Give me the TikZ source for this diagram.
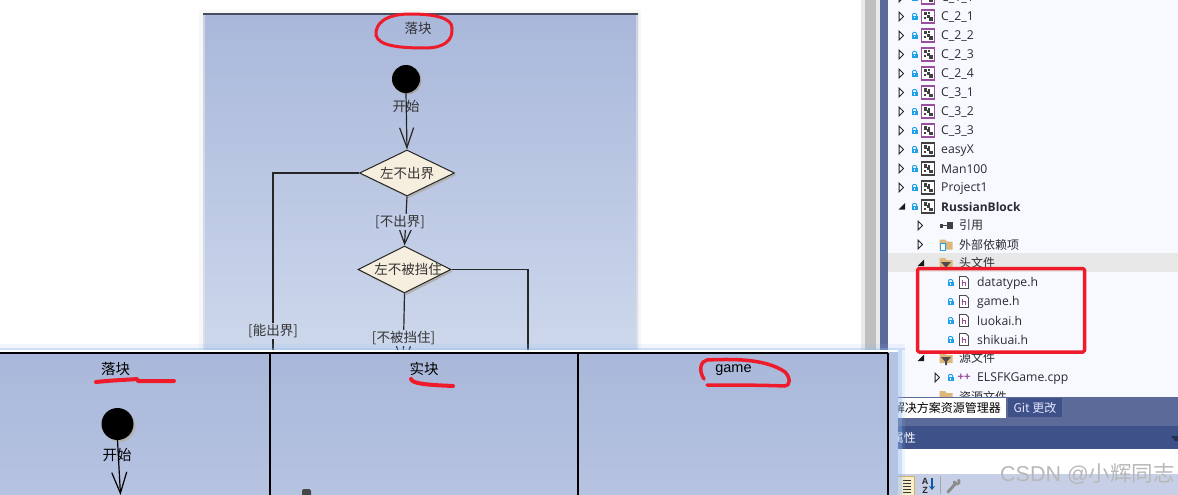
\documentclass[tikz,border=0pt]{standalone}
\usepackage{fontspec}
\setmainfont{Liberation Sans}
\newfontfamily\cjk{Noto Sans CJK SC}
\newfontfamily\uifont{Open Sans}
\usetikzlibrary{shapes.geometric,arrows.meta}
\definecolor{swimtop}{HTML}{A9B7DA}
\definecolor{swimmid}{HTML}{CDD8EC}
\definecolor{swimlow}{HTML}{B6C3E1}
\definecolor{panelbg}{HTML}{F8F9FF}
\definecolor{chrome}{HTML}{5B6A99}
\definecolor{chromedark}{HTML}{3F5189}
\definecolor{inkred}{HTML}{EE1C2B}
\definecolor{lockblue}{HTML}{1FA0EA}
\definecolor{projpurple}{HTML}{9A4E9E}
\definecolor{dmdfill}{HTML}{F6EEDF}
\definecolor{treeink}{HTML}{2B2B33}
\definecolor{toolbarbg}{HTML}{C6CFE6}
\definecolor{btnfill}{HTML}{FBEECB}
\definecolor{btnline}{HTML}{D8B060}
\definecolor{sortblue}{HTML}{0A5AAA}
\definecolor{glowblue}{HTML}{8CB9F0}
\definecolor{lanebg}{HTML}{B5C3E2}
\definecolor{guardA}{HTML}{C2CEE7}
\definecolor{guardB}{HTML}{CDD7EC}
\definecolor{folderc}{HTML}{DCB67A}
\definecolor{topline}{HTML}{474C5E}
\tikzset{
  x=1pt,y=-1pt,
  treetext/.style={anchor=west,inner sep=0,yshift=-0.8pt,text=treeink,font=\uifont\fontsize{12.2}{14}\selectfont},
  cjktree/.style={anchor=west,inner sep=0,text=treeink,font=\cjk\fontsize{12}{14}\selectfont},
  umltext/.style={inner sep=0,text=black!80,font=\cjk\fontsize{13.5}{15}\selectfont},
  guardtext/.style={umltext,inner sep=1pt},
  decision/.style={diamond,aspect=2,draw=black!85,line width=1pt,fill=dmdfill,inner sep=0,minimum width=95pt,minimum height=46pt,umltext},
  dmdshadow/.style={diamond,aspect=2,fill=black!30,inner sep=0,minimum width=95pt,minimum height=46pt},
  startdot/.style={circle,fill=black,inner sep=0},
  flow/.style={draw=black!85,line width=1.2pt},
  flowarrow/.style={flow,-{Straight Barb[length=20pt,width=14pt,line width=1.2pt]}},
  redink/.style={draw=inkred,line width=3.5pt,line cap=round,line join=round},
  lockpic/.pic={
    \fill[lockblue] (-3,-0.5) rectangle (3,3.5);
    \draw[lockblue,line width=1pt] (-2,-0.5) -- (-2,-2) -- (-1,-3) -- (1,-3) -- (2,-2) -- (2,-0.5);
    \fill[white] (-0.7,0.7) rectangle (0.7,2);
  },
  openarrow/.pic={\draw[black!85,line width=1pt,fill=white] (-2,-4.5) -- (2.5,0) -- (-2,4.5) -- cycle;},
  openarrowsolid/.pic={\fill[black!90] (-3.5,3) -- (3,3) -- (3,-3.5) -- cycle;},
  projpic/.pic={
    \draw[#1,line width=1.1pt,fill=white] (-6.5,-6.5) rectangle (6.5,6.5);
    \fill[black!75] (-4.5,-4.5) rectangle (-1,-1);
    \fill[black!75] (-1.5,-1.5) rectangle (1.5,1.5);
    \fill[black!75] (1,1) rectangle (4.5,4.5);
    \fill[black!75] (0,-4) rectangle (2,-2);
    \fill[black!75] (-4,1) rectangle (-2,3);
  },
  filepic/.pic={
    \draw[black!70,line width=0.9pt,fill=white] (-4.5,-6) -- (2,-6) -- (4.5,-3.5) -- (4.5,6) -- (-4.5,6) -- cycle;
    \draw[projpurple,line width=1pt] (-1.5,-3) -- (-1.5,3.5) (-1.5,0) -- (1.5,0) -- (1.5,3.5);
  },
  folderpic/.pic={
    \fill[folderc] (-6.5,-5) -- (-1,-5) -- (0.5,-3) -- (6.5,-3) -- (6.5,5) -- (-6.5,5) -- cycle;
  },
}
\begin{document}
\begin{tikzpicture}
\useasboundingbox (0,0) rectangle (1178,495);
\clip (0,0) rectangle (1178,495);
\fill[white] (0,0) rectangle (1178,495);

% vertical scroll strip and explorer
\fill[black!10,opacity=.8] (861,0) rectangle (880,495);
\fill[black!25] (865,0) rectangle (876,495);
\fill[chrome] (880,0) rectangle (888,495);
\fill[panelbg] (888,0) rectangle (1178,397);
\fill[black!9] (888,253) rectangle (1178,272);

% project rows
\foreach \yy/\name/\col/\nid in {-2.5/C\_1\_1/projpurple/a,16.5/C\_2\_1/projpurple/b,35.5/C\_2\_2/projpurple/c,54.5/C\_2\_3/projpurple/d,73.5/C\_2\_4/projpurple/e,92.5/C\_3\_1/projpurple/f,111.5/C\_3\_2/projpurple/g,130.5/C\_3\_3/projpurple/h,149.5/easyX/black!75/i,168.5/Man100/black!75/j,187.5/Project1/black!75/k}{
  \pic at (901,\yy) {openarrow};
  \pic at (914.5,\yy) {lockpic};
  \pic at (928,\yy) {projpic={\col}};
  \node[treetext] (row\nid) at (941,\yy) {\name};
}
\pic at (902,206.5) {openarrowsolid};
\pic at (914.5,206.5) {lockpic};
\pic at (928,206.5) {projpic={black!75}};
\node[treetext,font=\uifont\bfseries\fontsize{12}{14}\selectfont] (rowrb) at (941,206.5) {RussianBlock};

\pic at (920,225.5) {openarrow};
\fill[black!75] (939.5,223.5) rectangle (943,227.5);
\fill[black!75] (947,222) rectangle (953,229);
\draw[black!75] (943,225.5) -- (947,225.5);
\node[cjktree] (rowref) at (959,225.5) {引用};
\pic at (920,244.5) {openarrow};
\pic at (946,244.5) {folderpic};
\fill[white] (940,243) rectangle (946,250);
\draw[lockblue] (940.5,243.5) rectangle (945.5,250);
\node[cjktree] (rowdep) at (959,244.5) {外部依赖项};
\pic at (921,263) {openarrowsolid};
\pic at (946,263) {folderpic};
\fill[black!70] (941,262) -- (951,262) -- (947,266.5) -- (947,270) -- (945,270) -- (945,266.5) -- cycle;
\node[cjktree] (rowhdr) at (959,263) {头文件};

\foreach \yy/\name/\nid in {282.5/datatype.h/p,301.5/game.h/q,320.5/luokai.h/r,339.5/shikuai.h/s}{
  \pic at (950.5,\yy) {lockpic};
  \pic at (964,\yy) {filepic};
  \node[treetext] (file\nid) at (977,\yy) {\name};
}
\pic at (921,358) {openarrowsolid};
\pic at (946,358) {folderpic};
\fill[black!70] (941,357) -- (951,357) -- (947,361.5) -- (947,365) -- (945,365) -- (945,361.5) -- cycle;
\node[cjktree] (rowsrc) at (959,358) {源文件};
\pic at (937,377.5) {openarrow};
\pic at (950.5,377.5) {lockpic};
\node[inner sep=0,text=projpurple,font=\bfseries\fontsize{11}{12}\selectfont] (plus) at (964,377) {++};
\node[treetext] (filecpp) at (977,377.5) {ELSFKGame.cpp};
\pic at (946,396) {folderpic};
\node[cjktree] (rowres) at (959,396.5) {资源文件};

\draw[redink,rounded corners=1.5pt,line cap=butt] (917.5,268.5) rectangle (1084.5,352);

% lower-right chrome
\fill[chrome] (888,397) rectangle (1178,426);
\fill[white] (888,398) rectangle (1006,418);
\node[anchor=east,inner sep=0,text=black,font=\cjk\fontsize{12}{14}\selectfont] (tabsol) at (1001,408) {解决方案资源管理器};
\fill[chromedark] (1008,398) rectangle (1062,417);
\node[inner sep=0,text=white!90!blue,font=\cjk\fontsize{12}{14}\selectfont] (tabgit) at (1035,408) {Git 更改};
\fill[chromedark] (888,426) rectangle (1178,449);
\node[anchor=east,inner sep=0,text=white,font=\cjk\fontsize{12}{14}\selectfont] (proptitle) at (916,438) {属性};
\fill[black!40!chromedark] (1171,436) -- (1178,436) -- (1178,441) -- (1175,441) -- cycle;
\fill[white] (888,449) rectangle (1178,474);
\fill[toolbarbg] (888,474) rectangle (1178,495);
\fill[btnfill] (896,476) rectangle (914,495);
\draw[btnline] (896,476) rectangle (914,495);
\foreach \yy in {480,483,486,489,492}{\draw[black!80,line width=.9pt] (903,\yy) -- (911,\yy);}
\node[inner sep=0,text=black!85,font=\bfseries\fontsize{9}{9}\selectfont] (azA) at (925,481) {A};
\node[inner sep=0,text=black!85,font=\bfseries\fontsize{9}{9}\selectfont] (azZ) at (925,490) {Z};
\draw[sortblue,line width=1.5pt,-{Stealth[length=4pt,width=6pt]}] (932,478) -- (932,490);
\draw[black!35] (940,476) -- (940,494);
\draw[black!45,line width=3pt,line cap=round] (948,492) -- (956,483);
\draw[black!45,line width=2.5pt] (958,479.5) arc[start angle=-60,end angle=200,radius=2.5];

% upper activity diagram
\fill[black!3] (199,10) rectangle (641,352);
\shade[top color=swimtop,bottom color=swimmid] (203,14) rectangle (638,352);
\fill[black!10,opacity=.6] (203,14) rectangle (205,352);
\fill[black!10,opacity=.6] (636,14) rectangle (638,352);
\draw[topline,line width=1.5pt] (203,14) -- (638,14);
\node[umltext] (titleA) at (418,28) {落块};
\draw[inkred,line width=3pt,line cap=round] (410,14) .. controls (385,14) and (375,24) .. (376,35) .. controls (378,46) and (400,48) .. (425,48) .. controls (445,48) and (453,40) .. (452,28) .. controls (452,18) and (435,14) .. (410,14);

\fill[black!35] (407.5,80.5) circle[radius=14];
\node[startdot,minimum size=28pt] (startA) at (406,79) {};
\node[umltext] (startlabelA) at (406,106) {开始};

\node[dmdshadow] (d1shadow) at (409,175) {};
\node[dmdshadow,minimum width=93pt,minimum height=47pt] (d2shadow) at (406.5,271.5) {};
\node[decision] (d1) at (407,173) {左不出界};
\node[decision,minimum width=93pt,minimum height=47pt] (d2) at (404.5,269.5) {\makebox[0pt]{\hspace*{7pt}左不被挡住}};
\coordinate (exitL) at (273,360);
\coordinate (exitR) at (528,360);
\coordinate (exitB) at (403,368);

\draw[flowarrow] (startA.south) -- (d1.north);
\draw[flowarrow,-{Straight Barb[length=17pt,width=14pt,line width=1.2pt]}] (d1.south) -- (d2.north);
\draw[flow] (d1.west) -| (exitL);
\draw[flow] (d2.east) -| (exitR);
\draw[flowarrow] (d2.south) -- (exitB);
\node[guardtext,fill=guardA] (g1) at (400,222) {[不出界]};
\node[guardtext,fill=guardB] (g2) at (273,331) {[能出界]};
\node[guardtext,fill=guardB] (g3) at (403.5,338) {[不被挡住]};

% lower swimlane window
\fill[glowblue,opacity=.12] (0,344) rectangle (905,350);
\fill[glowblue,opacity=.35] (0,347.5) rectangle (905,350);
\fill[glowblue,opacity=.15] (898,350) rectangle (905,495);
\fill[glowblue,opacity=.35] (898,350) rectangle (901.5,495);
\fill[lanebg] (0,350) rectangle (898,495);
\fill[white] (0,350) rectangle (898,352);
\shade[top color=swimtop,bottom color=swimlow] (0,353) rectangle (888,495);
\draw[black,line width=1.3pt] (0,353) -- (888,353);
\draw[black,line width=1.3pt] (270,353) -- (270,495);
\draw[black,line width=1.3pt] (578,353) -- (578,495);
\draw[black,line width=1.3pt] (888,353) -- (888,495);
\node[umltext,text=black,font=\cjk\fontsize{14.5}{16}\selectfont] (laneA) at (115.5,369) {落块};
\node[umltext,text=black,font=\cjk\fontsize{14.5}{16}\selectfont] (laneB) at (424,369) {实块};
\node[inner sep=0,text=black,font=\fontsize{14.5}{16}\selectfont] (laneC) at (733.5,370) {game};
\draw[redink,line width=4pt] (96,382) .. controls (115,380) and (125,380) .. (137,379) -- (138,381) -- (174,381);
\draw[redink,line width=4pt] (411,379) .. controls (412,384) and (430,385) .. (453,386);
\draw[redink] (704,379) .. controls (698,370) and (701,361) .. (707,360) .. controls (730,359) and (765,358) .. (785,372) .. controls (791,378) and (790,386) .. (785,386) .. controls (760,385) and (730,385) .. (707,385);

\fill[black!30] (119.5,426) circle[radius=16];
\node[startdot,minimum size=32pt] (startB) at (117.5,424) {};
\node[umltext,text=black,font=\cjk\fontsize{14.5}{16}\selectfont] (startlabelB) at (117,455) {开始};
\coordinate (endB) at (120.5,495);
\draw[flowarrow,draw=black,-{Straight Barb[length=21pt,width=15pt,line width=1.2pt]}] (startB.south) -- (endB);
\fill[black!72,rounded corners=1.5pt] (302,489) rectangle (311,497);

% watermark
\node[anchor=west,inner sep=0,text=black!28,font=\fontsize{21.5}{24}\selectfont] (wm) at (1000,474) {CSDN @{\cjk 小辉同志}};
\end{tikzpicture}
\end{document}
